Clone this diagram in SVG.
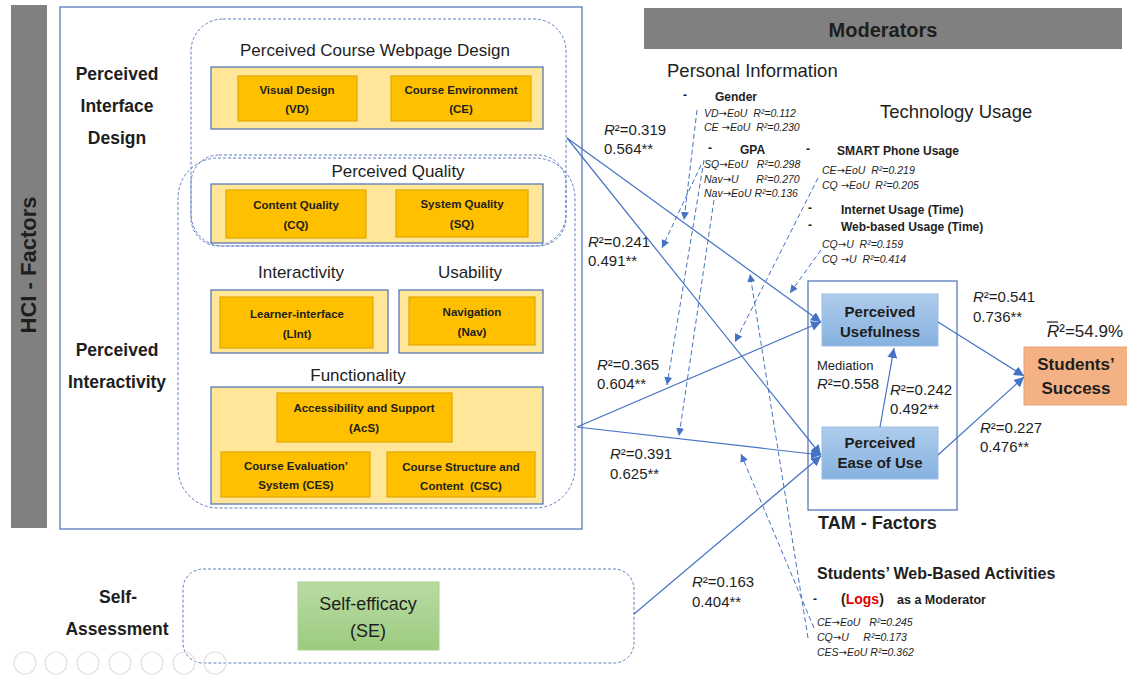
<svg xmlns="http://www.w3.org/2000/svg" width="1127" height="681" viewBox="0 0 1127 681">
  <defs>
    <marker id="arr" viewBox="0 0 10 10" refX="10" refY="5" markerWidth="10" markerHeight="10" markerUnits="userSpaceOnUse" orient="auto">
      <path d="M0,0 L10,5 L0,10 z" fill="#4472C4"/>
    </marker>
    <marker id="arrS" viewBox="0 0 10 10" refX="10" refY="5" markerWidth="8" markerHeight="8" markerUnits="userSpaceOnUse" orient="auto">
      <path d="M0,0 L10,5 L0,10 z" fill="#4472C4"/>
    </marker>
    <linearGradient id="gBlue" x1="0" y1="0" x2="0" y2="1">
      <stop offset="0" stop-color="#AECCEC"/>
      <stop offset="1" stop-color="#86B2DF"/>
    </linearGradient>
    <linearGradient id="gGreen" x1="0" y1="0" x2="0" y2="1">
      <stop offset="0" stop-color="#B9DBA3"/>
      <stop offset="1" stop-color="#9DCB80"/>
    </linearGradient>
    <style>
      text { font-family: "Liberation Sans", Arial, sans-serif; fill: #1e1e1e; white-space: pre; }
      .frame { fill: none; stroke: #4A6FB5; stroke-width: 1.2; }
      .dash { fill: none; stroke: #5E7FBF; stroke-width: 1; stroke-dasharray: 3 2; }
      .pale { fill: #FFE699; stroke: #4A6FB5; stroke-width: 1.2; }
      .gold { fill: #FFC000; stroke: #E0A800; stroke-width: 1.2; }
      .gold-t { font-size: 11.5px; font-weight: bold; text-anchor: middle; }
      .grp { font-size: 17px; text-anchor: middle; }
      .side { font-size: 17.5px; font-weight: bold; text-anchor: middle; }
      .lbl { font-size: 15px; }
      .modh { font-size: 12px; font-weight: bold; }
      .mi { font-size: 10.5px; font-style: italic; }
      .ar { font-family: "DejaVu Sans", sans-serif; font-style: normal; font-size: 10px; }
      .big { font-size: 18.5px; }
      .link { fill: none; stroke: #4472C4; stroke-width: 1.2; marker-end: url(#arr); }
      .mline { fill: none; stroke: #4472C4; stroke-width: 1; stroke-dasharray: 5 3; marker-end: url(#arrS); }
      .tam { fill: url(#gBlue); stroke: #9DBDE4; stroke-width: 1; }
      .tam-t { font-size: 15px; font-weight: bold; text-anchor: middle; }
      .ui { fill: none; stroke: #E2E2E2; stroke-width: 1.2; }
    </style>
  </defs>

  <!-- side bar and outer frame for the HCI factors -->
  <g id="hci-bar">
    <rect x="11" y="5" width="36" height="523" fill="#808080"/>
    <text transform="translate(36,265) rotate(-90)" font-size="22" font-weight="bold" text-anchor="middle">HCI - Factors</text>
  </g>
  <rect id="hci-frame" x="60" y="7" width="522" height="522" class="frame"/>

  <g id="side-labels">
    <text class="side" x="117" y="80">Perceived</text>
    <text class="side" x="117" y="112">Interface</text>
    <text class="side" x="117" y="144">Design</text>
    <text class="side" x="117" y="356">Perceived</text>
    <text class="side" x="117" y="388">Interactivity</text>
  </g>

  <!-- dashed groupings -->
  <g id="grouping">
    <rect x="191" y="19" width="375" height="227" rx="32" class="dash"/>
    <rect x="191" y="155" width="375" height="91" rx="28" class="dash"/>
    <rect x="178" y="158" width="397" height="350" rx="40" class="dash"/>
  </g>

  <g id="webpage-design">
    <text class="grp" x="375" y="56">Perceived Course Webpage Design</text>
    <rect x="211" y="67" width="332" height="62" class="pale"/>
    <g id="vd">
      <rect x="238" y="76" width="119" height="45" class="gold"/>
      <text class="gold-t" x="297" y="94">Visual Design</text>
      <text class="gold-t" x="297" y="113">(VD)</text>
    </g>
    <g id="ce">
      <rect x="391" y="76" width="140" height="45" class="gold"/>
      <text class="gold-t" x="461" y="94">Course Environment</text>
      <text class="gold-t" x="461" y="113">(CE)</text>
    </g>
  </g>

  <g id="quality">
    <text class="grp" x="398" y="177" font-size="18.5">Perceived Quality</text>
    <rect x="211" y="184" width="332" height="59" class="pale"/>
    <g id="cq">
      <rect x="226" y="190" width="140" height="48" class="gold"/>
      <text class="gold-t" x="296" y="209">Content Quality</text>
      <text class="gold-t" x="296" y="229">(CQ)</text>
    </g>
    <g id="sq">
      <rect x="396" y="190" width="132" height="47" class="gold"/>
      <text class="gold-t" x="462" y="208">System Quality</text>
      <text class="gold-t" x="462" y="228">(SQ)</text>
    </g>
  </g>

  <g id="interactivity">
    <text class="grp" x="301" y="278">Interactivity</text>
    <rect x="211" y="290" width="177" height="63" class="pale"/>
    <g id="lint">
      <rect x="220" y="297" width="153" height="51" class="gold"/>
      <text class="gold-t" x="297" y="318">Learner-interface</text>
      <text class="gold-t" x="297" y="338">(LInt)</text>
    </g>
  </g>

  <g id="usability">
    <text class="grp" x="470" y="278">Usability</text>
    <rect x="399" y="290" width="144" height="63" class="pale"/>
    <g id="nav">
      <rect x="409" y="297" width="126" height="48" class="gold"/>
      <text class="gold-t" x="472" y="316">Navigation</text>
      <text class="gold-t" x="472" y="336">(Nav)</text>
    </g>
  </g>

  <g id="functionality">
    <text class="grp" x="358" y="381">Functionality</text>
    <rect x="211" y="387" width="332" height="117" class="pale"/>
    <g id="acs">
      <rect x="277" y="393" width="175" height="49" class="gold"/>
      <text class="gold-t" x="364" y="412">Accessibility and Support</text>
      <text class="gold-t" x="364" y="432">(AcS)</text>
    </g>
    <g id="ces">
      <rect x="221" y="452" width="149" height="45" class="gold"/>
      <text class="gold-t" x="296" y="470">Course Evaluation’</text>
      <text class="gold-t" x="296" y="489">System (CES)</text>
    </g>
    <g id="csc">
      <rect x="387" y="452" width="148" height="45" class="gold"/>
      <text class="gold-t" x="461" y="471">Course Structure and</text>
      <text class="gold-t" x="461" y="490">Content  (CSC)</text>
    </g>
  </g>

  <!-- self assessment -->
  <g id="self-assessment">
    <text class="side" x="118" y="603" font-size="17">Self-</text>
    <text class="side" x="117" y="635" font-size="17">Assessment</text>
    <rect x="183" y="569" width="451" height="94" rx="20" class="dash"/>
    <g id="se">
      <rect x="298" y="582" width="141" height="68" fill="url(#gGreen)" stroke="#A9D08E" stroke-width="1"/>
      <text x="368" y="610" font-size="18" text-anchor="middle">Self-efficacy</text>
      <text x="368" y="637" font-size="18" text-anchor="middle">(SE)</text>
    </g>
  </g>

  <!-- moderators -->
  <g id="moderators">
    <rect x="644" y="8" width="478" height="41" fill="#808080"/>
    <text x="883" y="37" font-size="20" font-weight="bold" text-anchor="middle">Moderators</text>
  </g>

  <g id="personal-info">
    <text class="big" x="667" y="77">Personal Information</text>
    <text class="modh" x="683" y="99">-</text>
    <text class="modh" x="715" y="101">Gender</text>
    <text class="mi" x="704" y="117">VD<tspan class="ar">→</tspan>EoU  R²=0.112</text>
    <text class="mi" x="704" y="131">CE <tspan class="ar">→</tspan>EoU  R²=0.230</text>
    <text class="modh" x="708" y="152">-</text>
    <text class="modh" x="740" y="154">GPA</text>
    <text class="mi" x="704" y="168">SQ<tspan class="ar">→</tspan>EoU   R²=0.298</text>
    <text class="mi" x="704" y="183">Nav<tspan class="ar">→</tspan>U      R²=0.270</text>
    <text class="mi" x="704" y="197">Nav<tspan class="ar">→</tspan>EoU R²=0.136</text>
  </g>

  <g id="technology-usage">
    <text class="big" x="880" y="118">Technology Usage</text>
    <text class="modh" x="806" y="153">-</text>
    <text class="modh" x="837" y="155">SMART Phone Usage</text>
    <text class="mi" x="822" y="174">CE<tspan class="ar">→</tspan>EoU  R²=0.219</text>
    <text class="mi" x="822" y="189">CQ <tspan class="ar">→</tspan>EoU  R²=0.205</text>
    <text class="modh" x="808" y="212">-</text>
    <text class="modh" x="841" y="214">Internet Usage (Time)</text>
    <text class="modh" x="808" y="229">-</text>
    <text class="modh" x="841" y="231">Web-based Usage (Time)</text>
    <text class="mi" x="822" y="248">CQ<tspan class="ar">→</tspan>U  R²=0.159</text>
    <text class="mi" x="822" y="263">CQ <tspan class="ar">→</tspan>U  R²=0.414</text>
  </g>

  <g id="web-activities">
    <text x="817" y="579" font-size="16" font-weight="bold">Students’ Web-Based Activities</text>
    <text class="modh" x="813" y="603">-</text>
    <text x="841" y="604" font-size="14" font-weight="bold">(<tspan fill="#E00000">Logs</tspan>)</text>
    <text x="897" y="604" font-size="12.5" font-weight="bold">as a Moderator</text>
    <text class="mi" x="817" y="626">CE<tspan class="ar">→</tspan>EoU   R²=0.245</text>
    <text class="mi" x="817" y="641">CQ<tspan class="ar">→</tspan>U     R²=0.173</text>
    <text class="mi" x="817" y="656">CES<tspan class="ar">→</tspan>EoU R²=0.362</text>
  </g>

  <!-- TAM -->
  <g id="tam">
    <rect x="808" y="281" width="149" height="229" class="frame"/>
    <text x="818" y="529" font-size="18" font-weight="bold">TAM - Factors</text>
    <text x="817" y="370" font-size="13">Mediation</text>
    <text class="lbl" x="817" y="389"><tspan font-style="italic">R</tspan>²=0.558</text>
  </g>
  <g id="pu">
    <rect x="822" y="294" width="116" height="52" class="tam"/>
    <text class="tam-t" x="880" y="317">Perceived</text>
    <text class="tam-t" x="880" y="337">Usefulness</text>
  </g>
  <g id="peou">
    <rect x="822" y="427" width="116" height="52" class="tam"/>
    <text class="tam-t" x="880" y="448">Perceived</text>
    <text class="tam-t" x="880" y="468">Ease of Use</text>
  </g>

  <g id="success">
    <rect x="1024" y="347" width="104" height="58" fill="#F4B183" stroke="#E9A472" stroke-width="1"/>
    <text x="1076" y="370" font-size="17" font-weight="bold" text-anchor="middle">Students’</text>
    <text x="1076" y="394" font-size="17" font-weight="bold" text-anchor="middle">Success</text>
    <text x="1047" y="337" font-size="17"><tspan font-style="italic">R</tspan>²=54.9%</text>
    <line x1="1047" y1="322" x2="1058" y2="322" stroke="#1e1e1e" stroke-width="1.2"/>
  </g>

  <!-- path labels -->
  <g id="path-labels">
    <text class="lbl" x="604" y="135"><tspan font-style="italic">R</tspan>²=0.319</text>
    <text class="lbl" x="604" y="154">0.564**</text>
    <text class="lbl" x="588" y="247"><tspan font-style="italic">R</tspan>²=0.241</text>
    <text class="lbl" x="588" y="266">0.491**</text>
    <text class="lbl" x="597" y="370"><tspan font-style="italic">R</tspan>²=0.365</text>
    <text class="lbl" x="597" y="389">0.604**</text>
    <text class="lbl" x="610" y="459"><tspan font-style="italic">R</tspan>²=0.391</text>
    <text class="lbl" x="610" y="479">0.625**</text>
    <text class="lbl" x="692" y="587"><tspan font-style="italic">R</tspan>²=0.163</text>
    <text class="lbl" x="692" y="607">0.404**</text>
    <text class="lbl" x="890" y="395"><tspan font-style="italic">R</tspan>²=0.242</text>
    <text class="lbl" x="890" y="414">0.492**</text>
    <text class="lbl" x="973" y="302"><tspan font-style="italic">R</tspan>²=0.541</text>
    <text class="lbl" x="973" y="322">0.736**</text>
    <text class="lbl" x="980" y="433"><tspan font-style="italic">R</tspan>²=0.227</text>
    <text class="lbl" x="980" y="452">0.476**</text>
  </g>

  <!-- connectors -->
  <g id="connectors">
    <path class="link" d="M567,138 L821,322"/>
    <path class="link" d="M567,138 L821,455"/>
    <path class="link" d="M577,427 L821,322"/>
    <path class="link" d="M577,427 L821,455"/>
    <path class="link" d="M634,614 L821,456"/>
    <path class="link" d="M880,427 L894,348"/>
    <path class="link" d="M938,322 L1024,376"/>
    <path class="link" d="M938,455 L1024,377"/>
    <!-- moderator effects -->
    <path class="mline" d="M697,110 L684,220"/>
    <path class="mline" d="M701,165 L662,248"/>
    <path class="mline" d="M704,160 L667,385"/>
    <path class="mline" d="M714,200 L679,436"/>
    <path class="mline" d="M818,178 L735,342"/>
    <path class="mline" d="M821,250 L790,293"/>
    <path class="mline" d="M808,638 L750,274"/>
    <path class="mline" d="M814,628 L741,454"/>
  </g>

  <!-- faint viewer controls -->
  <g id="viewer-controls">
    <circle cx="25" cy="663" r="11" class="ui"/>
    <circle cx="56" cy="663" r="11" class="ui"/>
    <circle cx="88" cy="663" r="11" class="ui"/>
    <circle cx="120" cy="663" r="11" class="ui"/>
    <circle cx="152" cy="663" r="11" class="ui"/>
    <circle cx="184" cy="663" r="11" class="ui"/>
    <circle cx="215" cy="663" r="11" class="ui"/>
  </g>
</svg>
